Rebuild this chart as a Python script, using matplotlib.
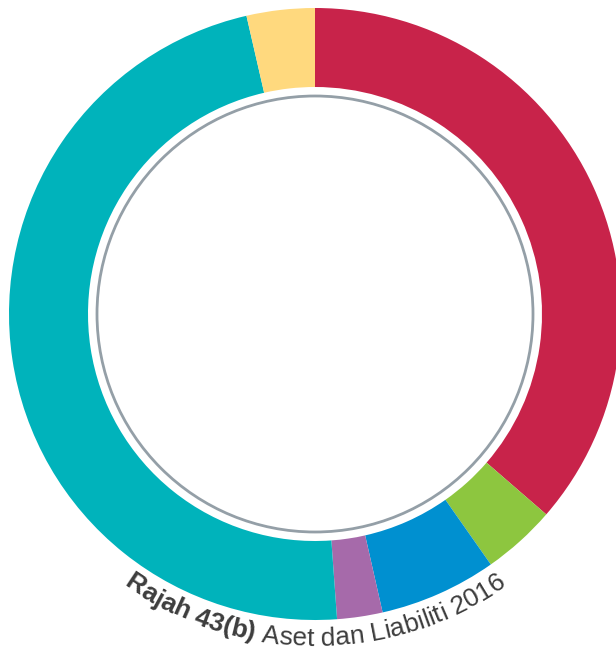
import matplotlib
matplotlib.use("Agg")
import matplotlib.pyplot as plt
import numpy as np

# segment shares, clockwise from 12 o'clock
labels = ["Merah", "Hijau", "Biru", "Ungu", "Biru kehijauan", "Kuning"]
values = [36.4, 3.9, 6.2, 2.4, 47.6, 3.6]
colors = ["#C8234A", "#8DC63F", "#0090D0", "#A66AAA", "#00B3BB", "#FFD97E"]

title_bold = "Rajah 43(b)"
title_rest = " Aset dan Liabiliti 2016"

W, H = 616, 650
fig = plt.figure(figsize=(W / 100, H / 100), dpi=100)
ax = fig.add_axes([0, 0, 1, 1])

cx, cy = 315, H - 314
r_out, r_in = 306, 227

ax.pie(values, colors=colors, radius=r_out, center=(cx, cy), startangle=90,
       counterclock=False, wedgeprops=dict(width=r_out - r_in, linewidth=0))
ax.add_patch(plt.Circle((cx, cy), 218, fill=False, ec="#949FA7", lw=2.0))

ax.set_xlim(0, W)
ax.set_ylim(0, H)
ax.set_aspect("equal")
ax.axis("off")

# curved caption along the bottom of the ring
fs = 19
fam = "Liberation Sans"
col = "#3d3d3d"
r_txt = 332
renderer = fig.canvas.get_renderer()


def width(s, weight):
    t = ax.text(0, 0, s, fontsize=fs, family=fam, weight=weight)
    w = t.get_window_extent(renderer).width
    t.remove()
    return w


chars = []
off = 0.0
for part, weight in [(title_bold, "bold"), (title_rest, "normal")]:
    prev = 0.0
    for i in range(len(part)):
        w = width(part[: i + 1].replace(" ", "\u00a0"), weight)
        chars.append((part[i], weight, off + (prev + w) / 2))
        prev = w
    off += prev
total = off

for ch, weight, s in chars:
    if ch == " ":
        continue
    th = (s - total / 2) / r_txt
    x = cx + r_txt * np.sin(th)
    y = cy - r_txt * np.cos(th)
    ax.text(x, y, ch, fontsize=fs, family=fam, weight=weight, color=col,
            rotation=np.degrees(th), rotation_mode="anchor",
            ha="center", va="baseline")

fig.savefig("out.png", dpi=100, facecolor="white")
